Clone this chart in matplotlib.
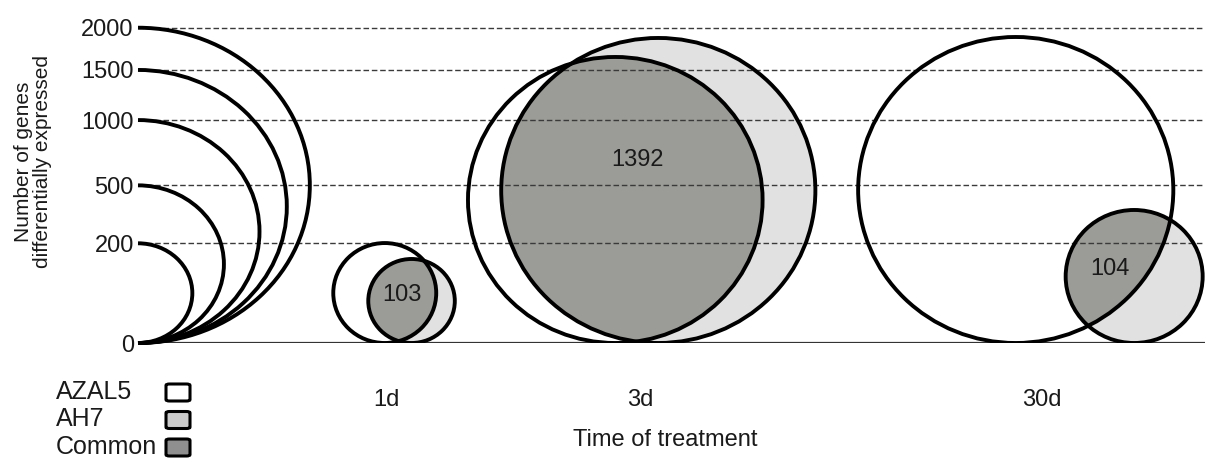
#!/usr/bin/env python3
# Area-proportional Venn circles of differentially expressed genes per treatment time

import matplotlib
matplotlib.use('Agg')
import matplotlib.pyplot as plt
import numpy as np
from matplotlib.patches import Ellipse, Arc, FancyBboxPatch

plt.rcParams['font.family'] = ['Liberation Sans', 'DejaVu Sans']

# Data
TIMES = ['1d', '3d', '30d']
AZAL5 = [201, 1646, 1884]     # genes, AZAL5 circle
AH7 = [142, 1872, 356]        # genes, AH7 circle
COMMON = [103, 1392, 104]     # genes in both
SCALE_TICKS = [0, 200, 500, 1000, 1500, 2000]
LEGEND_LABELS = ['AZAL5', 'AH7', 'Common']

# Layout (axes units, one unit = sqrt(1 gene) of circle diameter)
K = 7.05                      # pixels per unit
AZAL5_X = [35.0, 67.7, 124.5]
AH7_X = [38.8, 73.8, 141.3]
COMMON_LABEL_XY = [(37.5, 6.8), (70.9, 25.9), (137.9, 10.5)]
TIME_X = [35.2, 71.2, 128.2]
ARC_STRETCH = 1.09
VENN_STRETCH = 1.03

COLORS = {
    'AZAL5': '#ffffff',
    'AH7': '#e1e1e1',
    'Common': '#9b9b97',
}
LEGEND_COLORS = ['#ffffff', '#cbcbcb', '#8f8f8f']
TEXT = '#1a1a1a'

W, H = 1205, 458
fig = plt.figure(figsize=(W / 100, H / 100), dpi=100)

# axes box in pixels
left_px, right_px, base_px, top_px = 138, 1205, 343, 20
ax = fig.add_axes([left_px / W, (H - base_px) / H,
                   (right_px - left_px) / W, (base_px - top_px) / H])
ax.set_xlim(0, (right_px - left_px) / K)
ax.set_ylim(0, (base_px - top_px) / K)
for s in ax.spines.values():
    s.set_visible(False)

levels = np.sqrt(SCALE_TICKS)

# dashed guide lines and baseline
ax.hlines(levels[1:], 0, ax.get_xlim()[1], colors='#3a3a3a', lw=1,
          linestyles=(0, (4, 2)), zorder=3)
ax.axhline(0, color='#333333', lw=1.6, zorder=3)

# scale semicircles
for d in levels[1:]:
    ax.add_patch(Arc((0, d / 2), d * ARC_STRETCH, d, theta1=-90, theta2=90,
                     color='black', lw=2.8, zorder=4, clip_on=False))

# Venn circles
for i in range(len(TIMES)):
    da = np.sqrt(AZAL5[i])
    dh = np.sqrt(AH7[i])
    ah7 = Ellipse((AH7_X[i], dh / 2), dh * VENN_STRETCH, dh,
                  facecolor=COLORS['AH7'], edgecolor='none', zorder=1)
    az = Ellipse((AZAL5_X[i], da / 2), da * VENN_STRETCH, da,
                 facecolor=COLORS['AZAL5'], edgecolor='none', zorder=1.5)
    ax.add_patch(ah7)
    ax.add_patch(az)

    clip = Ellipse((AZAL5_X[i], da / 2), da * VENN_STRETCH, da)
    clip.set_transform(ax.transData)
    common = Ellipse((AH7_X[i], dh / 2), dh * VENN_STRETCH, dh,
                     facecolor=COLORS['Common'], edgecolor='none', zorder=2)
    ax.add_patch(common)
    common.set_clip_path(clip)

    for x, d in [(AZAL5_X[i], da), (AH7_X[i], dh)]:
        ax.add_patch(Ellipse((x, d / 2), d * VENN_STRETCH, d, facecolor='none',
                             edgecolor='black', lw=2.8, zorder=5))

    lx, ly = COMMON_LABEL_XY[i]
    ax.text(lx, ly, str(COMMON[i]), ha='center', va='center',
            fontsize=17, color=TEXT, zorder=6)

# axis ticks and labels
ax.set_yticks(levels, [str(v) for v in SCALE_TICKS])
ax.set_xticks(TIME_X, TIMES)
ax.tick_params(axis='y', length=0, pad=3, labelsize=17, colors=TEXT)
ax.tick_params(axis='x', length=0, pad=33, labelsize=17, colors=TEXT)
ax.set_xlabel('Time of treatment', fontsize=17, color=TEXT)
ax.xaxis.set_label_coords((665 - left_px) / (right_px - left_px), -0.265)

fig.text(33 / W, 1 - 162 / H, 'Number of genes\ndifferentially expressed',
         rotation=90, ha='center', va='center', fontsize=15,
         color=TEXT, multialignment='center', linespacing=1.05)

# legend: text on the left, boxes on the right
for j, (lab, col) in enumerate(zip(LEGEND_LABELS, LEGEND_COLORS)):
    yc = 392 + j * 27.5
    fig.text(56 / W, 1 - yc / H, lab, ha='left', va='center', fontsize=18,
             color=TEXT)
    box = FancyBboxPatch((166 / W, 1 - (yc + 9) / H), 24 / W, 17 / H,
                         boxstyle='round,pad=0,rounding_size=0.003',
                         transform=fig.transFigure, facecolor=col,
                         edgecolor='black', lw=2.2)
    fig.add_artist(box)

fig.savefig('out.png', dpi=100)
